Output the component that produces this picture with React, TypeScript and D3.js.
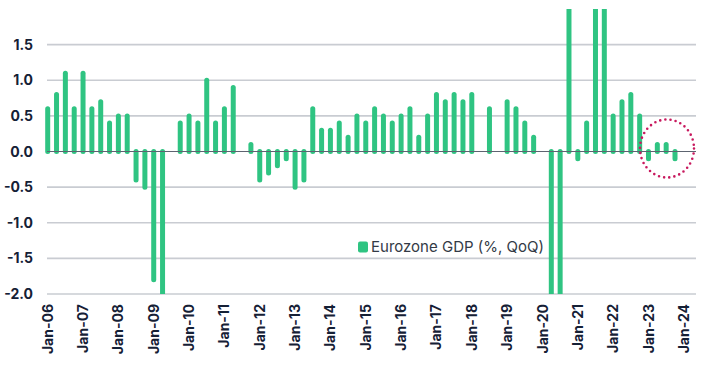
import React, { useEffect, useRef } from 'react';
import * as d3 from 'd3';

// Quarterly Eurozone GDP growth (%, QoQ), first bar = Jan-06; null = no bar drawn
const gdpQoQ: (number | null)[] = [
  0.6, 0.8, 1.1, 0.6, 1.1, 0.6, 0.7, 0.4, 0.5, 0.5,
  -0.4, -0.5, -1.8, -3.1, null, 0.4, 0.5, 0.4, 1.0, 0.4,
  0.6, 0.9, null, 0.1, -0.4, -0.3, -0.2, -0.1, -0.5, -0.4,
  0.6, 0.3, 0.3, 0.4, 0.2, 0.5, 0.4, 0.6, 0.5, 0.4,
  0.5, 0.6, 0.2, 0.5, 0.8, 0.7, 0.8, 0.7, 0.8, null,
  0.6, null, 0.7, 0.6, 0.4, 0.2, null, -3.6, -11.4, 12.0,
  -0.1, 0.4, 2.1, 2.3, 0.5, 0.7, 0.8, 0.5, -0.1, 0.1,
  0.1, -0.1,
];

const yearLabels = [
  'Jan-06', 'Jan-07', 'Jan-08', 'Jan-09', 'Jan-10', 'Jan-11', 'Jan-12',
  'Jan-13', 'Jan-14', 'Jan-15', 'Jan-16', 'Jan-17', 'Jan-18', 'Jan-19',
  'Jan-20', 'Jan-21', 'Jan-22', 'Jan-23', 'Jan-24',
];

const yTicks = [-2.0, -1.5, -1.0, -0.5, 0.0, 0.5, 1.0, 1.5];

const seriesName = 'Eurozone GDP (%, QoQ)';

const W = 712;
const H = 366;

const App: React.FC = () => {
  const svgRef = useRef<SVGSVGElement>(null);

  useEffect(() => {
    if (!svgRef.current) return;
    const svg = d3.select(svgRef.current);
    svg.selectAll('*').remove();

    const top = 9;
    const bottom = 294;
    const gridLeft = 47;
    const gridRight = 696;

    // one slot per quarter, labels every 4 slots
    const x = d3.scaleLinear().domain([0, 71]).range([47.7, 675]);
    const y = d3.scaleLinear().domain([-2, 2]).range([bottom, top]);

    svg.append('defs')
      .append('clipPath')
      .attr('id', 'plot-clip')
      .append('rect')
      .attr('x', gridLeft - 5)
      .attr('y', top)
      .attr('width', gridRight - gridLeft + 10)
      .attr('height', bottom - top);

    // gridlines
    svg.append('g')
      .selectAll('line')
      .data(yTicks.filter(t => t !== 0))
      .join('line')
      .attr('x1', gridLeft)
      .attr('x2', gridRight)
      .attr('y1', d => y(d))
      .attr('y2', d => y(d))
      .attr('stroke', '#c9ccd2')
      .attr('stroke-width', 1.6);

    // bars as round-capped strokes
    svg.append('g')
      .attr('clip-path', 'url(#plot-clip)')
      .selectAll('line')
      .data(gdpQoQ.map((v, i) => ({ v, i })).filter(d => d.v !== null))
      .join('line')
      .attr('x1', d => x(d.i))
      .attr('x2', d => x(d.i))
      .attr('y1', y(0))
      .attr('y2', d => y(d.v as number))
      .attr('stroke', '#2fc482')
      .attr('stroke-width', 5)
      .attr('stroke-linecap', 'round');

    // zero line
    svg.append('line')
      .attr('x1', gridLeft)
      .attr('x2', gridRight)
      .attr('y1', y(0))
      .attr('y2', y(0))
      .attr('stroke', '#5d6470')
      .attr('stroke-width', 1.2);

    // y tick labels
    svg.append('g')
      .attr('font-family', 'Inter, sans-serif')
      .attr('font-weight', 'bold')
      .attr('font-size', 14)
      .attr('fill', '#152035')
      .selectAll('text')
      .data(yTicks)
      .join('text')
      .attr('x', 33)
      .attr('y', d => y(d))
      .attr('dy', '0.36em')
      .attr('text-anchor', 'end')
      .text(d => d3.format('.1f')(d).replace('−', '-'));

    // x labels (rotated)
    svg.append('g')
      .attr('font-family', 'Inter, sans-serif')
      .attr('font-weight', 'bold')
      .attr('font-size', 14)
      .attr('fill', '#152035')
      .selectAll('text')
      .data(yearLabels)
      .join('text')
      .attr('transform', (d, i) => `translate(${x(i * 4)},304) rotate(-90)`)
      .attr('dy', '0.36em')
      .attr('text-anchor', 'end')
      .text(d => d);

    // legend
    const legend = svg.append('g').attr('transform', 'translate(358,241.5)');
    legend.append('rect')
      .attr('width', 10)
      .attr('height', 11)
      .attr('rx', 2)
      .attr('fill', '#2fc482');
    legend.append('text')
      .attr('x', 13)
      .attr('y', 10.5)
      .attr('font-family', 'Inter, sans-serif')
      .attr('font-size', 15)
      .attr('fill', '#333a46')
      .text(seriesName);

    // dotted highlight circle
    svg.append('ellipse')
      .attr('cx', 667)
      .attr('cy', 148.5)
      .attr('rx', 27)
      .attr('ry', 29)
      .attr('fill', 'none')
      .attr('stroke', '#c8195e')
      .attr('stroke-width', 2.6)
      .attr('stroke-linecap', 'round')
      .attr('stroke-dasharray', '0 5.2');
  }, []);

  return (
    <svg
      ref={svgRef}
      width={W}
      height={H}
      style={{ position: 'absolute', left: 0, top: 0, background: '#fff' }}
    />
  );
};

export default App;
